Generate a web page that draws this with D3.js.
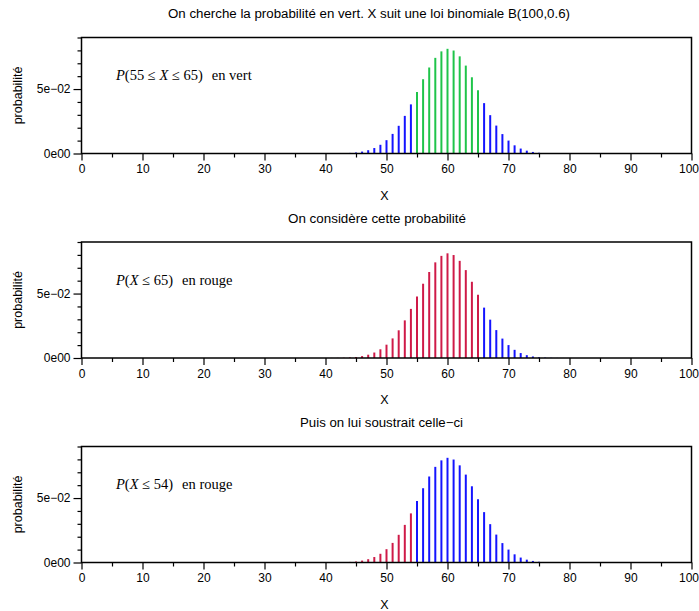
<!DOCTYPE html>
<html>
<head>
<meta charset="utf-8">
<script src="https://cdn.jsdelivr.net/npm/d3@7"></script>
<style>
  body { margin: 0; background: #fff; }
  svg { font-family: "Liberation Sans", Arial, sans-serif; }
</style>
</head>
<body>
<script>
'use strict';

// values of X shown as bars
const xValues = [40, 41, 42, 43, 44, 45, 46, 47, 48, 49, 50, 51, 52, 53, 54, 55, 56, 57, 58, 59, 60,
  61, 62, 63, 64, 65, 66, 67, 68, 69, 70, 71, 72, 73, 74, 75, 76, 77, 78, 79, 80];
// probabilities, B(100,0.6)
const probValues = [0.0000244, 0.0000536, 0.000113, 0.000229, 0.000444, 0.000829, 0.001487, 0.002563,
  0.004245, 0.006757, 0.010337, 0.015202, 0.021488, 0.029191, 0.038110, 0.047811, 0.057629, 0.066729,
  0.074207, 0.079238, 0.081219, 0.079888, 0.075378, 0.068199, 0.059141, 0.049133, 0.039083, 0.029750,
  0.021656, 0.015065, 0.010007, 0.006343, 0.003832, 0.002205, 0.001207, 0.000628, 0.000310, 0.000145,
  0.0000641, 0.0000268, 0.0000105];

const xTickLabels = [0, 10, 20, 30, 40, 50, 60, 70, 80, 90, 100];
const yTickLabels = ["0e00", "5e\u221202"];
const yTickValues = [0, 0.05];

const panelTitles = [
  "On cherche la probabilit\u00e9 en vert. X suit une loi binomiale B(100,0.6)",
  "On consid\u00e8re cette probabilit\u00e9",
  "Puis on lui soustrait celle\u2212ci"
];
// [low, high] range of highlighted bars per panel
const highlightRanges = [[55, 65], [0, 65], [0, 54]];
const highlightNotes = [
  ["55 \u2264 ", "X", " \u2264 65)", "en vert"],
  ["", "X", " \u2264 65)", "en rouge"],
  ["", "X", " \u2264 54)", "en rouge"]
];
const highlightColors = ["#1fc44a", "#cf1a48", "#cf1a48"];

(function() {

  const width = 699, height = 611;
  const left = 81.5, right = 691.5;
  const panelTops = [37.5, 242, 446.5];
  const panelHeight = 116;
  // horizontal span of each title as seen in the original
  const titleSpans = [[168, 570], [288, 466], [300, 463]];

  let svg = d3.select('body').append('svg')
    .attr('width', width)
    .attr('height', height);

  let xScale = d3.scaleLinear().domain([0, 100]).range([left, right]);

  panelTops.forEach((top, i) => drawPanel(i, top));

  function drawPanel(i, top) {
    let bottom = top + panelHeight;
    let g = svg.append('g');

    let yScale = d3.scaleLinear().domain([0, 0.09]).range([bottom, top]);

    // title
    let span = titleSpans[i];
    g.append('text')
      .attr('x', span[0])
      .attr('y', top - 19.5)
      .attr('font-size', 12.5)
      .attr('textLength', span[1] - span[0])
      .attr('lengthAdjust', 'spacingAndGlyphs')
      .text(panelTitles[i]);

    // bars, blue outside the range, highlighted colour inside
    let range = highlightRanges[i];
    g.selectAll('.bar')
      .data(xValues.map((x, k) => ({ x: x, p: probValues[k] })))
      .enter()
      .append('line')
        .attr('x1', (d) => xScale(d.x))
        .attr('x2', (d) => xScale(d.x))
        .attr('y1', yScale(0))
        .attr('y2', (d) => yScale(d.p))
        .attr('stroke', (d) => (d.x >= range[0] && d.x <= range[1]) ? highlightColors[i] : '#1414ff')
        .attr('stroke-width', 2);

    // box
    g.append('rect')
      .attr('x', left)
      .attr('y', top)
      .attr('width', right - left)
      .attr('height', panelHeight)
      .attr('fill', 'none')
      .attr('stroke', '#000')
      .attr('stroke-width', 1.5);

    // x axis, major and minor ticks
    let xAxis = d3.axisBottom(xScale)
      .tickValues(xTickLabels)
      .tickSize(7)
      .tickPadding(4)
      .tickFormat(d3.format('d'));
    let xg = g.append('g')
      .attr('transform', `translate(0, ${bottom})`)
      .call(xAxis);
    xg.select('.domain').remove();
    xg.selectAll('text')
      .attr('font-size', 12)
      .attr('font-family', null);
    // last label would run past the page edge
    xg.selectAll('text').filter((d) => d === 100)
      .attr('text-anchor', 'end')
      .attr('x', 7);

    let xMinor = d3.axisBottom(xScale)
      .tickValues(d3.range(5, 100, 10))
      .tickSize(4)
      .tickFormat('');
    g.append('g')
      .attr('transform', `translate(0, ${bottom})`)
      .call(xMinor)
      .select('.domain').remove();

    // y axis
    let yAxis = d3.axisLeft(yScale)
      .tickValues(yTickValues)
      .tickSize(8)
      .tickPadding(3)
      .tickFormat((d, k) => yTickLabels[k]);
    let yg = g.append('g')
      .attr('transform', `translate(${left}, 0)`)
      .call(yAxis);
    yg.select('.domain').remove();
    yg.selectAll('text')
      .attr('font-size', 12)
      .attr('font-family', null);

    let yMinor = d3.axisLeft(yScale)
      .tickValues([0.01, 0.02, 0.03, 0.04, 0.06, 0.07, 0.08, 0.09])
      .tickSize(4)
      .tickFormat('');
    g.append('g')
      .attr('transform', `translate(${left}, 0)`)
      .call(yMinor)
      .select('.domain').remove();

    g.selectAll('.tick line').attr('stroke-width', 1.2);

    // axis titles
    g.append('text')
      .attr('x', xScale(50) - 2)
      .attr('y', bottom + 46)
      .attr('text-anchor', 'middle')
      .attr('font-size', 12.5)
      .text('X');

    g.append('text')
      .attr('transform', `translate(22, ${(top + bottom) / 2}) rotate(-90)`)
      .attr('text-anchor', 'middle')
      .attr('font-size', 12.5)
      .text('probabilit\u00e9');

    // math-like annotation, serif
    let note = highlightNotes[i];
    let t = g.append('text')
      .attr('x', 116)
      .attr('y', top + 42.5)
      .style('font-family', '"Liberation Serif", "DejaVu Serif", serif')
      .attr('font-size', 14.5);
    t.append('tspan').attr('font-style', 'italic').text('P');
    t.append('tspan').text('(' + note[0]);
    t.append('tspan').attr('font-style', 'italic').text(note[1]);
    t.append('tspan').text(note[2]);
    t.append('tspan').attr('dx', 9).text(note[3]);
  }

})();
</script>
</body>
</html>
